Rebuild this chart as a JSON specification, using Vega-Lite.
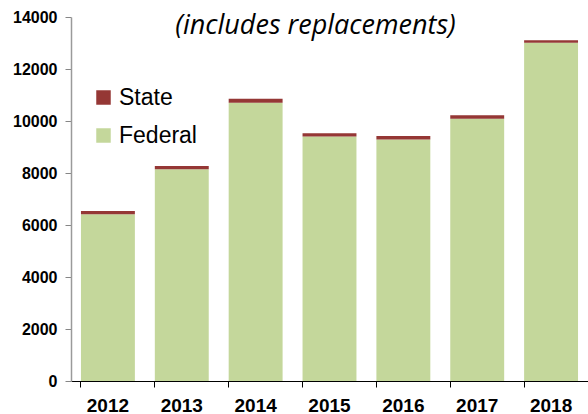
{
  "$schema": "https://vega.github.io/schema/vega-lite/v6.json",
  "width": 517,
  "height": 364,
  "autosize": "none",
  "padding": {"left": 71, "top": 17, "right": 0, "bottom": 33},
  "background": "white",
  "config": {"view": {"stroke": null}},
  "data": {
    "values": [
      {"year": "2012", "source": "Federal", "value": 6410},
      {"year": "2012", "source": "State", "value": 130},
      {"year": "2013", "source": "Federal", "value": 8140},
      {"year": "2013", "source": "State", "value": 130},
      {"year": "2014", "source": "Federal", "value": 10700},
      {"year": "2014", "source": "State", "value": 155},
      {"year": "2015", "source": "Federal", "value": 9400},
      {"year": "2015", "source": "State", "value": 130},
      {"year": "2016", "source": "Federal", "value": 9285},
      {"year": "2016", "source": "State", "value": 140},
      {"year": "2017", "source": "Federal", "value": 10090},
      {"year": "2017", "source": "State", "value": 130},
      {"year": "2018", "source": "Federal", "value": 13010},
      {"year": "2018", "source": "State", "value": 100}
    ]
  },
  "layer": [
    {
      "mark": {"type": "bar"},
      "encoding": {
        "x": {
          "field": "year", "type": "ordinal",
          "scale": {"paddingInner": 0.27, "paddingOuter": 0.135},
          "axis": {
            "title": null, "labelAngle": 0, "bandPosition": 0,
            "domainColor": "#000000", "tickColor": "#000000", "tickSize": 6,
            "labelFont": "Liberation Sans", "labelFontWeight": "bold", "labelFontSize": 19,
            "labelColor": "#000000", "labelPadding": 9, "labelBound": false
          }
        },
        "y": {
          "field": "value", "type": "quantitative", "stack": "zero",
          "scale": {"domain": [0, 14000], "nice": false},
          "axis": {
            "title": null, "values": [0, 2000, 4000, 6000, 8000, 10000, 12000, 14000],
            "format": "d",
            "grid": false, "domainColor": "#9a9a9a", "tickColor": "#868686", "tickSize": 6,
            "domainWidth": 1.5,
            "labelFont": "Liberation Sans", "labelFontWeight": "bold", "labelFontSize": 16,
            "labelColor": "#000000", "labelPadding": 8, "labelBound": false, "labelFlush": false
          }
        },
        "color": {
          "field": "source", "type": "nominal",
          "scale": {"domain": ["State", "Federal"], "range": ["#953735", "#c4d79b"]},
          "legend": {
            "title": null, "orient": "none", "legendX": 21, "legendY": 69,
            "symbolType": "square", "symbolSize": 210, "symbolStrokeWidth": 0,
            "symbolOpacity": 1,
            "labelFont": "Liberation Sans", "labelFontSize": 23, "labelColor": "#000000",
            "rowPadding": 14, "labelOffset": 4
          }
        },
        "order": {"field": "source", "sort": "ascending"}
      }
    }
  ],
  "title": {
    "text": "(includes replacements)",
    "font": "Open Sans", "fontStyle": "italic", "fontWeight": "normal", "fontSize": 27,
    "color": "#000000", "anchor": "middle", "dx": -14, "offset": -31, "baseline": "top"
  }
}
